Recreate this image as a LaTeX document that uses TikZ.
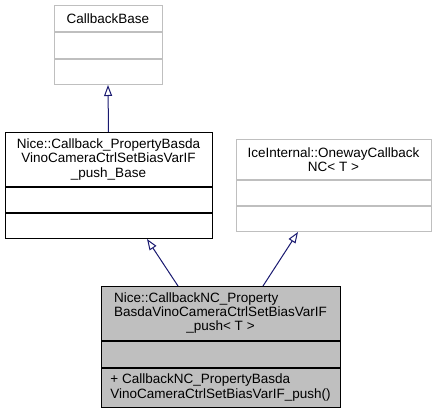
\documentclass[tikz,border=0pt]{standalone}
\usepackage{fontspec}
\setmainfont{Liberation Sans}
\usetikzlibrary{positioning,arrows.meta}
\definecolor{edgeblue}{HTML}{191970}
\definecolor{boxgray}{HTML}{BFBFBF}

\begin{document}
\begin{tikzpicture}[x=1pt, y=-1pt,
    part/.style={draw=black, fill=white, line width=1pt, inner sep=0pt, align=center,
                 font=\fontsize{13.5}{14.3}\selectfont},
    faded/.style={draw=boxgray},
    current/.style={fill=boxgray},
    inherit/.style={draw=edgeblue, line width=1pt, -{Triangle[open, length=11pt, width=8pt]}}]
    \useasboundingbox (0,0) rectangle (437,412);

    % CallbackBase
    \node[part, faded, minimum width=108, minimum height=26, anchor=north] (cbtitle) at (108,5) {CallbackBase};
    \node[part, faded, minimum width=108, minimum height=26, below=0pt of cbtitle] (cbattr) {};
    \node[part, faded, minimum width=108, minimum height=25, below=0pt of cbattr] (cbops) {};

    % Callback base class
    \node[part, minimum width=207, minimum height=54, anchor=north] (btitle) at (108.5,132)
        {Nice::Callback\_PropertyBasda\\VinoCameraCtrlSetBiasVarIF\\\_push\_Base};
    \node[part, minimum width=207, minimum height=25, below=0pt of btitle] (battr) {};
    \node[part, minimum width=207, minimum height=25, below=0pt of battr] (bops) {};

    % IceInternal
    \node[part, faded, minimum width=195, minimum height=40, anchor=north] (ictitle) at (333.5,139)
        {IceInternal::OnewayCallback\\NC< T >};
    \node[part, faded, minimum width=195, minimum height=25, below=0pt of ictitle] (icattr) {};
    \node[part, faded, minimum width=195, minimum height=25, below=0pt of icattr] (icops) {};

    % CallbackNC class
    \node[part, current, minimum width=239, minimum height=54, anchor=north] (nctitle) at (220.5,286)
        {\begin{tabular}{@{}l@{}}Nice::CallbackNC\_Property\\BasdaVinoCameraCtrlSetBiasVarIF\\
         \multicolumn{1}{@{}c@{}}{\_push< T >}\end{tabular}};
    \node[part, current, minimum width=239, minimum height=26, below=0pt of nctitle] (ncattr) {};
    \node[part, current, minimum width=239, minimum height=39, below=0pt of ncattr] (ncops)
        {\begin{tabular}{@{}l@{}}+ CallbackNC\_PropertyBasda\\VinoCameraCtrlSetBiasVarIF\_push()\end{tabular}};

    % inheritance
    \draw[inherit] (btitle.north) -- (cbops.south);
    \draw[inherit] ([xshift=-42.5pt]nctitle.north) -- ([xshift=38.5pt]bops.south);
    \draw[inherit] ([xshift=42.5pt]nctitle.north) -- ([xshift=-35.5pt]icops.south);
\end{tikzpicture}
\end{document}
